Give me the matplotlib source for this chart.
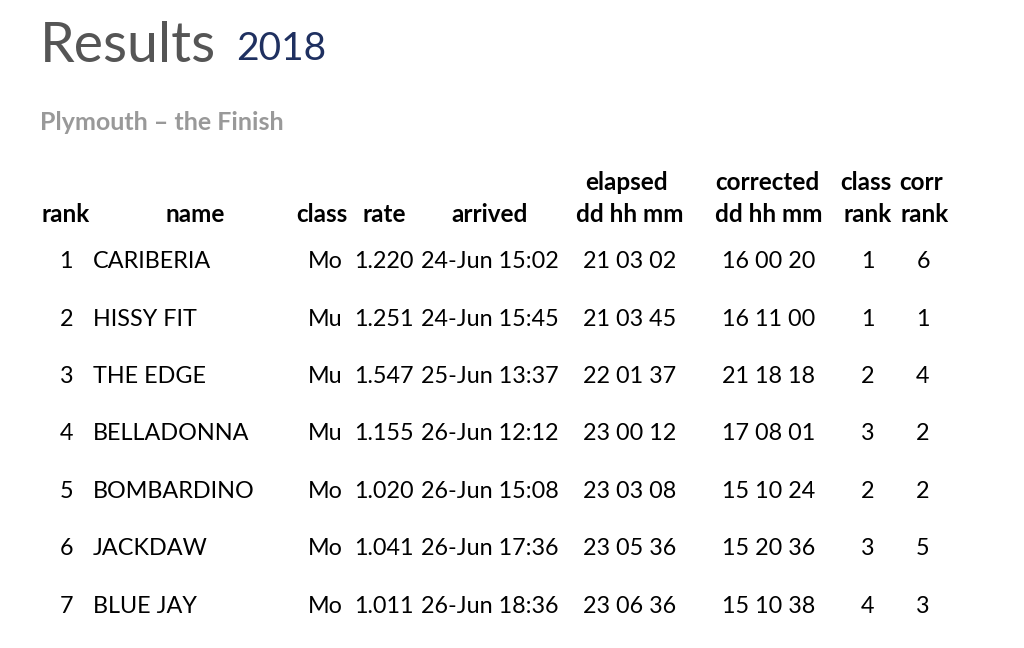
import matplotlib
matplotlib.use("Agg")
import matplotlib.pyplot as plt

plt.rcParams['font.family'] = ['Lato', 'DejaVu Sans']

ranks = [1, 2, 3, 4, 5, 6, 7]
names = ["CARIBERIA", "HISSY FIT", "THE EDGE", "BELLADONNA", "BOMBARDINO", "JACKDAW", "BLUE JAY"]
classes = ["Mo", "Mu", "Mu", "Mu", "Mo", "Mo", "Mo"]
rates = ["1.220", "1.251", "1.547", "1.155", "1.020", "1.041", "1.011"]
arrived = ["24-Jun 15:02", "24-Jun 15:45", "25-Jun 13:37", "26-Jun 12:12", "26-Jun 15:08", "26-Jun 17:36", "26-Jun 18:36"]
elapsed = ["21 03 02", "21 03 45", "22 01 37", "23 00 12", "23 03 08", "23 05 36", "23 06 36"]
corrected = ["16 00 20", "16 11 00", "21 18 18", "17 08 01", "15 10 24", "15 20 36", "15 10 38"]
class_rank = [1, 1, 2, 3, 2, 3, 4]
corr_rank = [6, 1, 4, 2, 2, 5, 3]

W, H = 1024, 648
fig = plt.figure(figsize=(W/100, H/100), dpi=100)
fig.patch.set_facecolor("white")

def t(x, y, s, **kw):
    fig.text(x/W, 1 - y/H, s, **kw)

t(40, 62, "Results", fontsize=40, color="#555555", va="baseline")
t(236, 60, "2018", fontsize=28, color="#1f3060", va="baseline")
t(40, 130, "Plymouth \u2013 the Finish", fontsize=18, color="#999999", fontweight="bold", va="baseline")

hk = dict(fontsize=17.5, fontweight="bold", color="black", va="baseline", ha="center")
t(66, 222, "rank", **hk)
t(195, 222, "name", **hk)
t(322, 222, "class", **hk)
t(384, 222, "rate", **hk)
t(490, 222, "arrived", **hk)
t(627, 190, "elapsed", **hk)
t(630, 222, "dd hh mm", **hk)
t(767, 190, "corrected", **hk)
t(769, 222, "dd hh mm", **hk)
t(866, 190, "class", **hk)
t(868, 222, "rank", **hk)
t(921, 190, "corr", **hk)
t(925, 222, "rank", **hk)

rk = dict(fontsize=16.8, color="black", va="baseline")
ys = [268, 326, 383, 440, 498, 555, 613]
for i, y in enumerate(ys):
    t(73, y, str(ranks[i]), ha="right", **rk)
    t(93, y, names[i], ha="left", **rk)
    t(325, y, classes[i], ha="center", **rk)
    t(384, y, rates[i], ha="center", **rk)
    t(490, y, arrived[i], ha="center", **rk)
    t(630, y, elapsed[i], ha="center", **rk)
    t(769, y, corrected[i], ha="center", **rk)
    t(868, y, str(class_rank[i]), ha="center", **rk)
    t(923, y, str(corr_rank[i]), ha="center", **rk)

fig.savefig("out.png", dpi=100, facecolor="white")
